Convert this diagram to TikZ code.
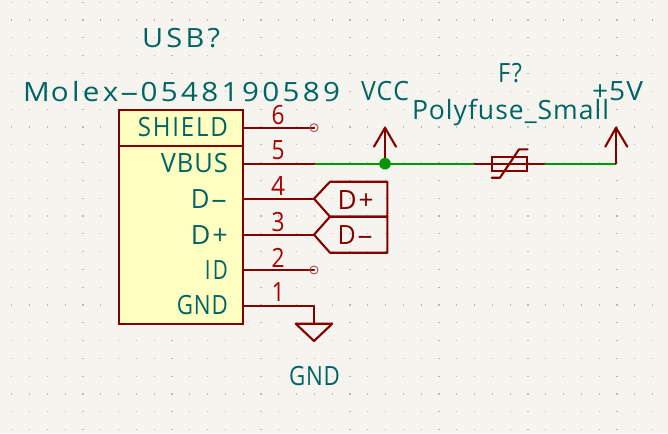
\documentclass[tikz,border=0pt]{standalone}
\usepackage{fontspec}
\usepackage{graphicx}
\setmainfont{Open Sans}
\definecolor{bgc}{HTML}{F5F4EF}
\definecolor{txt}{HTML}{006464}
\definecolor{lin}{HTML}{840000}
\definecolor{num}{HTML}{A90000}
\definecolor{wirec}{HTML}{009600}
\definecolor{bodyc}{HTML}{FFFFC2}
\definecolor{dotc}{HTML}{B8B8B4}
\newsavebox{\kbox}
% #1 target ink width in pt, #2 text
\newcommand{\kt}[2]{\sbox{\kbox}{\fontsize{26.5}{26.5}\selectfont #2}%
  \pgfmathsetmacro{\ksx}{#1/(\the\wd\kbox)}\scalebox{\ksx}[1]{\usebox{\kbox}}}
\newcommand{\kd}{\scalebox{2.1}[1]{-}}
\tikzset{
  lbl/.style={inner sep=0pt,text=txt},
  pinnum/.style={inner sep=0pt,text=num,anchor=base},
  pinline/.style={draw=lin,line width=2.1pt,line cap=round,line join=round},
  wireline/.style={draw=wirec,line width=2.1pt},
  nc/.style={circle,draw=lin!70!white,line width=.9pt,minimum size=8pt,inner sep=0pt},
}
\begin{document}
\begin{tikzpicture}[x=1pt,y=-1pt]
\useasboundingbox (0,0) rectangle (668,433);
\fill[bgc] (0,0) rectangle (668,433);
\foreach \i in {0,...,37}{\foreach \j in {0,...,24}{
  \fill[dotc] ({11.8+17.8*\i-.6},{3.5+17.8*\j-.6}) rectangle ++(1.2,-1.2);
}}
% symbol body
\node[draw=lin,fill=bodyc,line width=2.1pt,inner sep=0pt,minimum width=124pt,minimum height=213.7pt] (body) at (181,216.85) {};
\coordinate (sl) at (119,145.7);
\coordinate (sr) at (243,145.7);
\draw[pinline] (sl) -- (sr);
% pin anchors
\coordinate (p6) at (243,127.7); \coordinate (e6) at (314,127.7);
\coordinate (p5) at (243,163.7); \coordinate (e5) at (314,163.7);
\coordinate (p4) at (243,198.7); \coordinate (e4) at (314,198.7);
\coordinate (p3) at (243,234.7); \coordinate (e3) at (314,234.7);
\coordinate (p2) at (243,270);   \coordinate (e2) at (314,270);
\coordinate (p1) at (243,306);   \coordinate (e1) at (314,306);
\coordinate (g0) at (314,323.7);
\coordinate (vcc) at (385,163.7); \coordinate (vcct) at (385,127.7);
\coordinate (fl) at (475,163.7); \coordinate (fr) at (544,163.7);
\coordinate (pw) at (616,163.7); \coordinate (pwt) at (616,127.7);
% wires
\draw[wireline] (e5) -- (fl);
\draw[wireline] (fr) -- (pw);
% pins
\draw[pinline] (p6) -- (e6);
\draw[pinline] (p5) -- (e5);
\draw[pinline] (p4) -- (e4);
\draw[pinline] (p3) -- (e3);
\draw[pinline] (p2) -- (e2);
\draw[pinline] (p1) -- (e1) -- (g0);
\node[nc] (nc6) at (e6) {};
\node[nc] (nc2) at (e2) {};
% GND symbol
\draw[pinline] (295.7,323.7) -- (332.3,323.7) -- (314,341) -- cycle;
% global labels
\draw[pinline] (e4) -- (330,181.7) -- (387.3,181.7) -- (387.3,216.7) -- (330,216.7) -- cycle;
\draw[pinline] (e3) -- (330,216.7) -- (387.3,216.7) -- (387.3,252.7) -- (330,252.7) -- cycle;
% power symbols
\draw[pinline] (vcc) -- (vcct);
\draw[pinline] (374,146.7) -- (vcct) -- (396,146.7);
\draw[pinline] (pw) -- (pwt);
\draw[pinline] (605.3,146.7) -- (pwt) -- (627.3,146.7);
% fuse
\draw[pinline] (fl) -- (fr);
\draw[draw=lin,line width=2.1pt] (491.7,156.7) rectangle (527.3,171);
\draw[pinline] (491.7,177.7) -- (500,177.7) -- (519,149.3) -- (527.5,149.3);
\fill[wirec] (vcc) circle (5.8);
% texts
\node[lbl,anchor=base east] (tshield) at (228,136.7) {\kt{90}{S\hspace{2pt}H\hspace{2pt}I\hspace{2pt}E\hspace{2pt}L\hspace{2pt}D}};
\node[lbl,anchor=base east] (tvbus) at (228,172.6) {\kt{67}{V\hspace{1pt}B\hspace{1pt}U\hspace{1pt}S}};
\node[lbl,anchor=base east] (tdm) at (228,208.6) {\kt{37}{D\hspace{1pt}\kd}};
\node[lbl,anchor=base east] (tdp) at (228,244.2) {\kt{37}{D\hspace{2pt}+}};
\node[lbl,anchor=base east] (tid) at (228,279) {\kt{23}{I\hspace{3pt}D}};
\node[lbl,anchor=base east] (tgnd) at (228,314.3) {\kt{51}{G\hspace{1pt}N\hspace{1pt}D}};
\node[pinnum] (n6) at (278,124) {\kt{13}{6}};
\node[pinnum] (n5) at (278,159.5) {\kt{13}{5}};
\node[pinnum] (n4) at (278,195) {\kt{14}{4}};
\node[pinnum] (n3) at (278,231) {\kt{13}{3}};
\node[pinnum] (n2) at (278,267) {\kt{13}{2}};
\node[pinnum] (n1) at (278,301.7) {\kt{13}{1}};
\node[inner sep=0pt,text=lin,anchor=base] (gdp) at (355.5,209.3) {\kt{36}{D\hspace{2pt}+}};
\node[inner sep=0pt,text=lin,anchor=base] (gdm) at (355.5,244.3) {\kt{36}{D\hspace{1pt}\kd}};
\node[lbl,anchor=base] (tgndsym) at (314.5,385) {\kt{51}{G\hspace{1pt}N\hspace{1pt}D}};
\node[lbl,anchor=base] (tusb) at (181,48) {\kt{78}{U\hspace{3pt}S\hspace{3pt}B\hspace{3pt}?}};
\node[lbl,anchor=base] (tmol) at (181.5,102) {\kt{317}{M\hspace{1pt}o\hspace{3pt}l\hspace{3pt}e\hspace{3pt}x\hspace{1pt}\kd\hspace{1pt}0\hspace{3pt}5\hspace{3pt}4\hspace{3pt}8\hspace{3pt}1\hspace{3pt}9\hspace{3pt}0\hspace{3pt}5\hspace{3pt}8\hspace{3pt}9}};
\node[lbl,anchor=base] (tvcc) at (385,101) {\kt{48}{V\hspace{1pt}C\hspace{1pt}C}};
\node[lbl,anchor=base] (tf) at (510,83) {\kt{24}{F\hspace{2pt}?}};
\node[lbl,anchor=base] (tpoly) at (510.5,119.3) {\kt{197}{P\hspace{1pt}o\hspace{1pt}l\hspace{1pt}y\hspace{1pt}f\hspace{1pt}u\hspace{1pt}s\hspace{1pt}e\hspace{1pt}\_\hspace{1pt}S\hspace{1pt}m\hspace{1pt}a\hspace{1pt}l\hspace{1pt}l}};
\node[lbl,anchor=base] (t5v) at (617.5,101) {\kt{51}{+\hspace{1pt}5\hspace{1pt}V}};
\end{tikzpicture}
\end{document}
